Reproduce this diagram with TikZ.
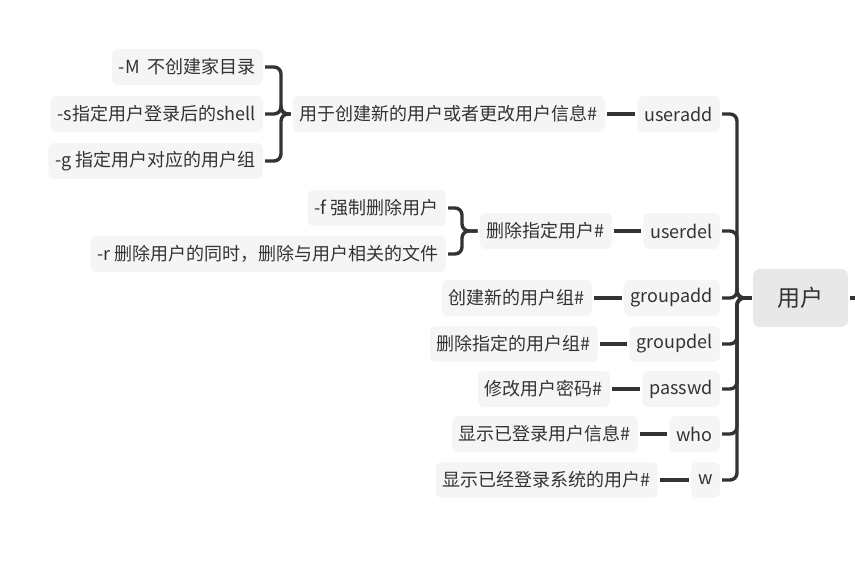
\documentclass[tikz,border=0pt]{standalone}
\usepackage{fontspec}
\newfontfamily\cjk{Noto Sans CJK SC}
\usetikzlibrary{calc}
\definecolor{cLinea}{HTML}{333333}
\definecolor{cTexto}{HTML}{333333}
\definecolor{cRaiz}{HTML}{E8E8E8}
\definecolor{cHoja}{HTML}{F5F5F5}
\tikzset{
    x=1pt, y=-1pt, font=\cjk\fontsize{18}{20}\selectfont,
    raiz/.style={fill=cRaiz, rounded corners=7pt, text=cTexto,
                 minimum width=95pt, minimum height=58pt, inner sep=0pt,
                 font=\cjk\fontsize{23}{26}\selectfont},
    hoja/.style={fill=cHoja, rounded corners=6pt, text=cTexto,
                 minimum height=36pt, inner xsep=7pt, inner ysep=0pt,
                 anchor=east},
    rama/.style={draw=cLinea, line width=3.4pt, rounded corners=7pt},
}
\begin{document}
\begin{tikzpicture}
    \useasboundingbox (0,0) rectangle (855,578);

    % raiz
    \node[raiz] (usuario) at (800.5,298) {用户};
    \coordinate (nudo) at (737,298);
    \coordinate (salida) at (855,298);
    \draw[rama, shorten <=2pt] (usuario.east) -- (salida);

    % comandos
    \node[hoja] (useradd)  at (720,114) {useradd};
    \node[hoja] (userdel)  at (720,231) {userdel};
    \node[hoja] (groupadd) at (720,298) {groupadd};
    \node[hoja] (groupdel) at (720,344) {groupdel};
    \node[hoja] (passwd)   at (720,389) {passwd};
    \node[hoja] (who)      at (720,434) {who};
    \node[hoja] (w)        at (720,480) {w};
    \foreach \c in {useradd,userdel,groupadd,groupdel,passwd,who,w}
        \draw[rama, shorten <=2pt, shorten >=1pt] (\c.east) -| (nudo) -- (usuario.west);

    % descripciones
    \node[hoja] (dUseradd)  at (605,114) {用于创建新的用户或者更改用户信息\#};
    \node[hoja] (dUserdel)  at (612,231) {删除指定用户\#};
    \node[hoja] (dGroupadd) at (592,298) {创建新的用户组\#};
    \node[hoja] (dGroupdel) at (598,344) {删除指定的用户组\#};
    \node[hoja] (dPasswd)   at (610,389) {修改用户密码\#};
    \node[hoja] (dWho)      at (638,434) {显示已登录用户信息\#};
    \node[hoja] (dW)        at (658,480) {显示已经登录系统的用户\#};
    \draw[rama, shorten <=2pt, shorten >=2pt] (dUseradd.east) -- (useradd.west);
    \draw[rama, shorten <=2pt, shorten >=2pt] (dUserdel.east) -- (userdel.west);
    \draw[rama, shorten <=2pt, shorten >=2pt] (dGroupadd.east) -- (groupadd.west);
    \draw[rama, shorten <=2pt, shorten >=2pt] (dGroupdel.east) -- (groupdel.west);
    \draw[rama, shorten <=2pt, shorten >=2pt] (dPasswd.east) -- (passwd.west);
    \draw[rama, shorten <=2pt, shorten >=2pt] (dWho.east) -- (who.west);
    \draw[rama, shorten <=2pt, shorten >=2pt] (dW.east) -- (w.west);

    % opciones de useradd
    \node[hoja] (optM) at (263,67)  {-M\ \ 不创建家目录};
    \node[hoja] (optS) at (263,114) {-s指定用户登录后的shell};
    \node[hoja] (optG) at (263,161) {-g 指定用户对应的用户组};
    \coordinate (llave1) at (281,114);
    \foreach \o in {optM,optS,optG}
        \draw[rama, shorten <=2pt, shorten >=2pt] (\o.east) -| (llave1) -- (dUseradd.west);

    % opciones de userdel
    \node[hoja] (optF) at (446,208) {-f 强制删除用户};
    \node[hoja] (optR) at (446,254) {-r 删除用户的同时，删除与用户相关的文件};
    \coordinate (llave2) at (462,231);
    \foreach \o in {optF,optR}
        \draw[rama, shorten <=2pt, shorten >=2pt] (\o.east) -| (llave2) -- (dUserdel.west);
\end{tikzpicture}
\end{document}
